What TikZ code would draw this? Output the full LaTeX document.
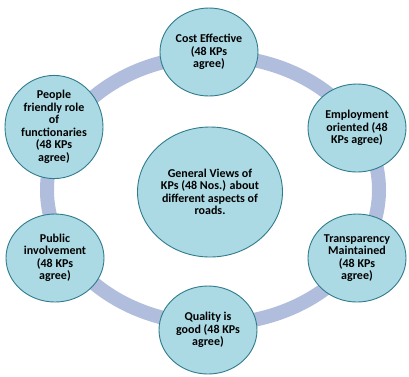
\documentclass[tikz,border=0pt]{standalone}
\usepackage{fontspec}
\setmainfont{Carlito}
\usetikzlibrary{shapes.geometric}
\definecolor{ringblue}{HTML}{B0BDDC}
\definecolor{nodefill}{HTML}{ABDAE4}
\definecolor{nodeline}{HTML}{2F7B8C}
\begin{document}
\begin{tikzpicture}[x=1pt, y=-1pt,
    view/.style={ellipse, draw=nodeline, fill=nodefill, line width=0.9pt,
        inner sep=0pt, align=center, font=\fontsize{12}{12.5}\selectfont\bfseries,
        minimum width=98pt, minimum height=88pt},
    hub/.style={view, minimum width=145pt, minimum height=130pt},
    ring/.style={draw=ringblue, line width=14pt}
    ]
    \useasboundingbox (0,0) rectangle (409,376);
    \draw [ring] (213,190) ellipse [x radius=166pt, y radius=134pt];

    \node [hub] (hub) at (210,192) {General Views of\\KPs (48 Nos.) about\\different aspects of\\roads.};

    \node [view] (cost) at (209,52) {Cost Effective\\(48 KPs\\agree)};
    \node [view] (employ) at (357,128) {Employment\\oriented (48\\KPs agree)};
    \node [view] (transp) at (357,258) {Transparency\\Maintained\\(48 KPs\\agree)};
    \node [view] (quality) at (208,330) {Quality is\\good (48 KPs\\agree)};
    \node [view] (public) at (55,258) {Public\\involvement\\(48 KPs\\agree)};
    \node [view] (people) at (54,127) {People\\friendly role\\of\\functionaries\\(48 KPs\\agree)};
\end{tikzpicture}
\end{document}
